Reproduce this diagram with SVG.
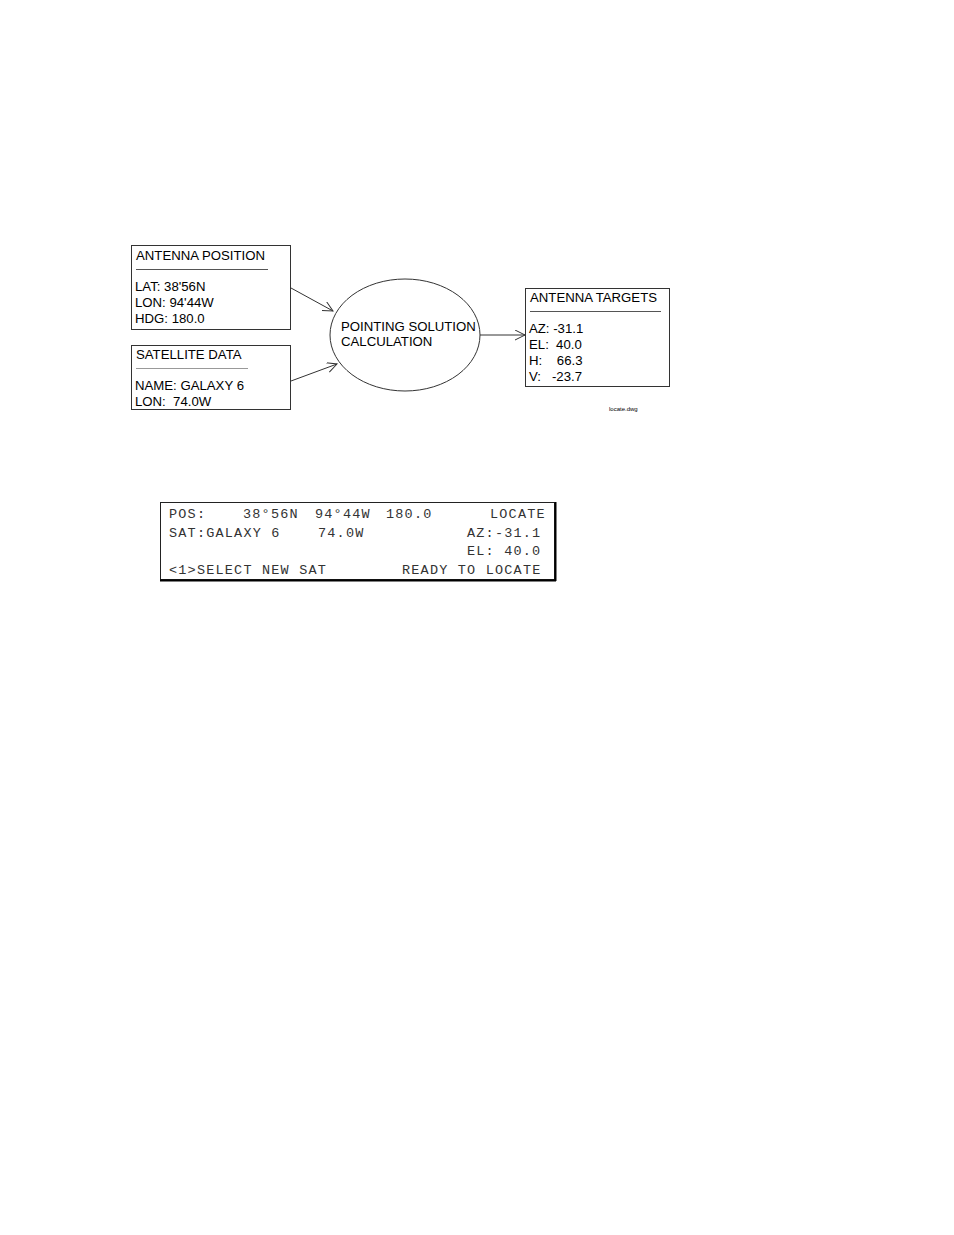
<svg xmlns="http://www.w3.org/2000/svg" width="954" height="1235" viewBox="0 0 954 1235">
<style>
.box{fill:#fff;stroke:#333;stroke-width:1}
.sep{stroke:#555;stroke-width:1}
.t{font-family:"Liberation Sans",Arial,sans-serif;font-size:13.2px;fill:#000;white-space:pre}
.m{font-family:"Liberation Mono","Courier New",monospace;font-size:13.5px;letter-spacing:1.2px;fill:#333;white-space:pre}
.c{stroke:#333;stroke-width:1;fill:none}
</style>
<defs>
<marker id="ah" markerWidth="12" markerHeight="12" refX="10" refY="5" orient="auto" markerUnits="userSpaceOnUse">
<path d="M0,0 L10,5 L0,10" fill="none" stroke="#333" stroke-width="1"/>
</marker>
</defs>
<rect width="954" height="1235" fill="#fff"/>
<g id="connectors">
<line class="c" x1="291" y1="288" x2="333" y2="311" marker-end="url(#ah)"/>
<line class="c" x1="291" y1="381" x2="337" y2="364" marker-end="url(#ah)"/>
<line class="c" x1="480" y1="335" x2="525" y2="335" marker-end="url(#ah)"/>
</g>
<g id="antenna-position">
<rect class="box" x="131.5" y="245.5" width="159" height="84"/>
<line class="sep" x1="136" y1="269.5" x2="268" y2="269.5"/>
<text class="t" x="136" y="260">ANTENNA POSITION</text>
<text class="t" x="135" y="291">LAT: 38'56N</text>
<text class="t" x="135" y="307">LON: 94'44W</text>
<text class="t" x="135" y="323">HDG: 180.0</text>
</g>
<g id="satellite-data">
<rect class="box" x="131.5" y="345.5" width="159" height="64"/>
<line x1="136" y1="368.5" x2="248" y2="368.5" stroke="#999" stroke-width="1"/>
<text class="t" x="136" y="359">SATELLITE DATA</text>
<text class="t" x="135" y="390">NAME: GALAXY 6</text>
<text class="t" x="135" y="406" xml:space="preserve">LON:  74.0W</text>
</g>
<g id="pointing-solution">
<ellipse cx="405" cy="335" rx="75" ry="56" fill="#fff" stroke="#333" stroke-width="1"/>
<text class="t" x="341" y="331">POINTING SOLUTION</text>
<text class="t" x="341" y="346">CALCULATION</text>
</g>
<g id="antenna-targets">
<rect class="box" x="525.5" y="288.5" width="144" height="98" stroke="#666"/>
<line class="sep" x1="530" y1="311.5" x2="661" y2="311.5"/>
<text class="t" x="530" y="302">ANTENNA TARGETS</text>
<text class="t" x="529" y="333">AZ: -31.1</text>
<text class="t" x="529" y="349" xml:space="preserve">EL:  40.0</text>
<text class="t" x="529" y="365" xml:space="preserve">H:    66.3</text>
<text class="t" x="529" y="381" xml:space="preserve">V:   -23.7</text>
</g>
<text x="609" y="411" font-family="Liberation Sans,Arial,sans-serif" font-size="6" fill="#000">locate.dwg</text>
<g id="lcd-display">
<rect x="160.5" y="502.5" width="394" height="77" fill="#fff" stroke="#222" stroke-width="1"/>
<line x1="555.5" y1="502" x2="555.5" y2="581" stroke="#000" stroke-width="2"/>
<line x1="160" y1="580.5" x2="556" y2="580.5" stroke="#000" stroke-width="2"/>
<text class="m" x="169" y="518">POS:</text>
<text class="m" x="243" y="518">38°56N</text>
<text class="m" x="315" y="518">94°44W</text>
<text class="m" x="386" y="518">180.0</text>
<text class="m" x="490" y="518">LOCATE</text>
<text class="m" x="169" y="537">SAT:GALAXY 6</text>
<text class="m" x="318" y="537">74.0W</text>
<text class="m" x="467" y="537">AZ:-31.1</text>
<text class="m" x="467" y="555" xml:space="preserve">EL: 40.0</text>
<text class="m" x="169" y="574">&lt;1&gt;SELECT NEW SAT</text>
<text class="m" x="402" y="574">READY TO LOCATE</text>
</g>
</svg>
